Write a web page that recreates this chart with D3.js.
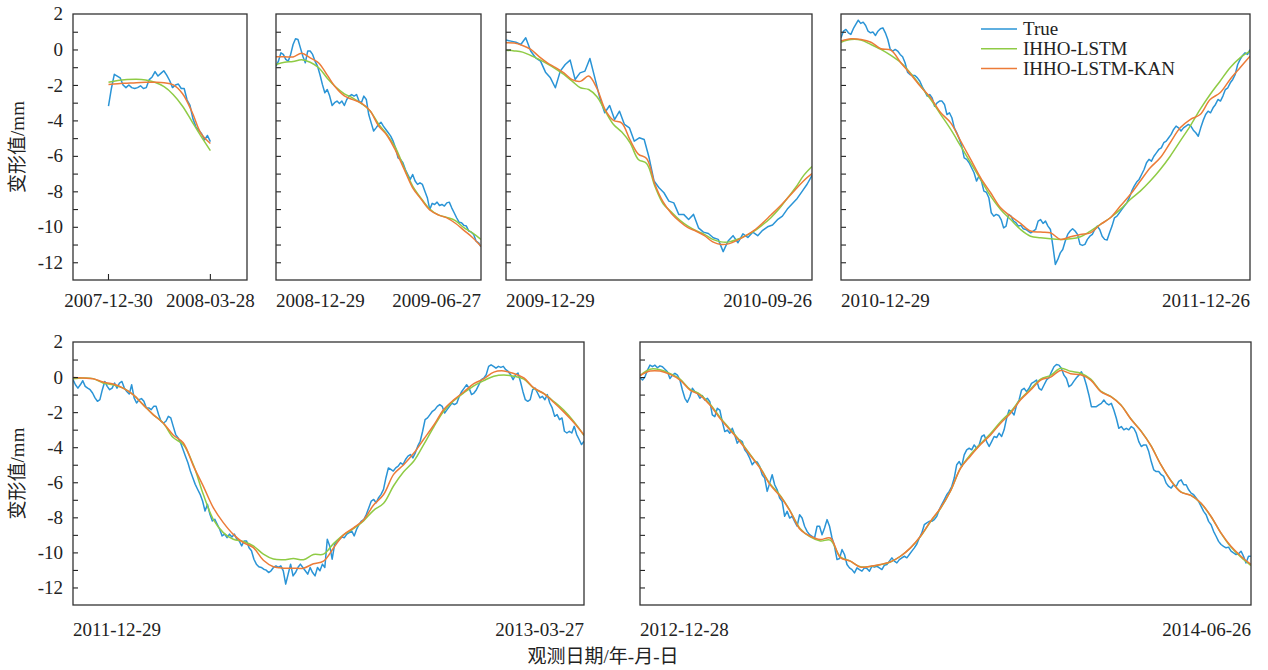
<!DOCTYPE html>
<html>
<head>
<meta charset="utf-8">
<script src="https://cdn.jsdelivr.net/npm/d3@7"></script>
<style>
  body { margin: 0; background: #fff; }
  text { font-family: "Liberation Serif", "Times New Roman", "Noto Sans CJK SC", serif; fill: #222; }
</style>
</head>
<body>
<div class="chart"></div>
<script>
// Data: each panel has a start/end date and three series sampled evenly over it.
const seriesNames = ['True', 'IHHO-LSTM', 'IHHO-LSTM-KAN'];
const seriesColors = ['#2a94d6', '#8fcb45', '#ec7b38'];
const panelDates = [
    ['2007-12-30', '2008-03-28'],
    ['2008-12-29', '2009-06-27'],
    ['2009-12-29', '2010-09-26'],
    ['2010-12-29', '2011-12-26'],
    ['2011-12-29', '2013-03-27'],
    ['2012-12-28', '2014-06-26']
];
const yTicks = [2, 0, -2, -4, -6, -8, -10, -12];

const p1True = [-3.2,-2.2,-1.4,-1.5,-1.6,-2.0,-2.15,-2.0,-2.15,-2.2,-2.15,-2.05,-2.2,-2.15,-1.7,-1.55,-1.25,-1.5,
    -1.35,-1.2,-1.45,-1.75,-2.15,-2.0,-1.95,-2.2,-2.2,-2.85,-3.15,-3.9,-4.35,-4.55,-4.75,-5.1,-4.85,-5.2];
const p1Lstm = [-1.85,-1.75,-1.7,-1.68,-1.72,-1.85,-2.1,-2.55,-3.2,-4.05,-4.9,-5.7];
const p1Kan = [-1.97,-1.93,-1.9,-1.87,-1.85,-1.85,-1.88,-2.0,-2.5,-3.5,-4.75,-5.3];

const p2True = [-0.94,-0.66,-0.19,-0.28,-0.56,-0.66,-0.28,0.28,0.6,0.56,0.09,-0.38,-0.75,-0.09,-0.09,-0.28,-0.66,
    -0.94,-1.41,-1.97,-2.44,-2.26,-2.63,-3.16,-3.0,-2.91,-3.05,-2.91,-3.16,-2.82,-2.63,-2.54,-2.63,-2.54,-2.91,-3.0,
    -2.63,-2.82,-3.67,-4.14,-4.6,-4.42,-4.23,-4.1,-4.32,-4.51,-4.7,-4.89,-5.17,-5.55,-6.11,-6.2,-6.39,-6.77,-7.05,
    -7.33,-7.05,-7.42,-7.61,-7.52,-7.61,-7.99,-8.36,-9.02,-8.68,-8.74,-8.61,-8.8,-8.74,-8.83,-8.65,-8.61,-8.93,-9.21,
    -9.49,-9.74,-9.77,-9.92,-9.96,-10.24,-10.3,-10.43,-10.81,-10.9,-11.13];
const p2Lstm = [-0.85,-0.72,-0.68,-0.58,-0.72,-1.03,-1.62,-2.12,-2.5,-2.74,-3.05,-3.45,-4.2,-4.8,-5.55,-6.67,-7.7,
    -8.4,-9.0,-9.33,-9.47,-9.65,-10.05,-10.34,-10.71];
const p2Kan = [-0.41,-0.41,-0.42,-0.22,-0.47,-0.76,-1.45,-2.15,-2.62,-2.83,-3.02,-3.45,-4.3,-4.85,-5.7,-6.75,-7.8,
    -8.45,-9.05,-9.33,-9.5,-9.8,-10.2,-10.6,-11.1];

const p3True = [0.53,0.47,0.41,0.28,0.66,-0.09,-0.47,-0.66,-1.28,-1.6,-2.16,-1.22,-0.85,-0.6,-1.69,-1.32,-1.22,-0.51,
    -1.6,-2.73,-3.57,-3.16,-3.95,-3.48,-4.23,-4.42,-5.17,-4.98,-5.08,-6.11,-7.42,-7.8,-8.08,-8.55,-8.65,-9.3,-9.3,
    -9.59,-9.3,-10.06,-10.3,-10.38,-10.62,-10.71,
    -11.4,-10.8,-10.5,-10.9,-10.4,-10.6,-10.3,-10.5,-10.2,-10.0,-9.9,-9.6,-9.4,-9.0,-8.7,-8.4,-8.0,-7.6,-7.1];
const p3Lstm = [-0.04,-0.08,-0.15,-0.34,-0.56,-0.81,-1.09,-1.41,-1.79,-2.16,-2.26,-2.67,-3.48,-4.23,-4.66,-5.26,-6.2,
    -6.43,-7.71,-8.7,-9.17,-9.62,-9.96,-10.22,-10.43,-10.71,
    -10.85,-10.85,-10.7,-10.5,-10.25,-9.9,-9.5,-9.0,-8.4,-7.8,-7.1,-6.6];
const p3Kan = [0.38,0.36,0.22,0.0,-0.4,-0.75,-1.02,-1.32,-1.7,-1.8,-1.5,-2.2,-3.4,-4.0,-4.15,-5.1,-5.9,-6.15,-7.6,
    -8.6,-9.25,-9.7,-10.05,-10.25,-10.5,-10.85,
    -11.0,-10.95,-10.75,-10.5,-10.2,-9.8,-9.35,-8.9,-8.4,-7.9,-7.4,-7.0];

const p4True = [0.66,1.03,1.13,0.94,0.85,1.17,1.41,1.65,1.47,1.54,1.35,1.03,0.94,0.98,0.79,1.03,1.17,1.22,0.94,0.56,
    0,-0.09,0,-0.09,-0.28,-0.41,-0.75,-1.28,-1.41,-1.47,-1.47,-1.6,-1.79,-2.11,-2.35,-2.63,-2.54,-2.73,-3.2,-3.01,
    -2.91,-2.91,-3.1,-3.67,-3.57,-3.85,-4.42,-4.7,-5.04,-5.45,-6.11,-6.2,-6.39,-6.67,-6.95,-7.42,-7.14,-7.42,-7.99,
    -8.05,-8.36,-9.21,-9.4,-9.3,-9.36,-9.59,-10.06,-9.96,-9.3,-9.4,-9.68,-9.77,-9.96,-9.92,-10.11,-10.15,-10.24,
    -10.34,-10.24,-10.15,-9.68,-9.59,-9.81,-9.68,-9.96,-10.15,-11.09,-12.12,-11.84,-11.47,-11.28,-10.81,-10.43,
    -10.24,-10.11,-10.24,-10.43,-10.99,-11.05,-10.99,-10.71,-10.53,-10.43,-10.15,-9.96,-10.15,-10.53,-10.71,-10.75,
    -10.34,-9.96,-9.49,-9.4,-9.21,-9.02,-8.83,-8.65,-8.36,-7.99,-7.71,-7.48,-7.33,-7.05,-6.77,-6.39,-6.2,-6.3,-6.02,
    -5.83,-5.64,-5.55,-5.26,-5.17,-4.98,-4.79,-4.51,-4.32,-4.42,-4.6,-4.42,-4.32,-4.23,-4.32,-4.55,-4.7,-4.89,-4.42,
    -4.0,-3.67,-3.48,-3.57,-3.29,-3.1,-2.82,-2.91,-2.63,-2.26,-2.16,-1.88,-1.69,-1.41,-0.85,-0.56,-0.34,-0.19,-0.28,0];
const p4Lstm = [0.41,0.56,0.53,0.28,0,-0.34,-0.75,-1.35,-2.07,-2.82,-3.67,-4.51,-5.45,-6.39,-7.33,-8.27,-9.02,-9.59,
    -10.15,-10.53,-10.62,-10.68,-10.71,-10.68,-10.56,-10.24,-9.87,-9.49,-9.02,-8.46,-7.99,-7.42,-6.77,-6.02,-5.17,
    -4.32,-3.38,-2.54,-1.79,-1.03,-0.47,-0.09];
const p4Kan = [0.47,0.6,0.56,0.41,0.04,-0.04,-0.75,-1.41,-2.11,-2.73,-3.57,-4.14,-5.17,-6.2,-7.24,-8.08,-8.93,-9.4,
    -9.81,-10.24,-10.3,-10.34,-10.71,-10.56,-10.43,-10.34,-9.87,-9.49,-8.83,-8.18,-7.42,-6.67,-6.11,-5.26,-4.42,
    -3.95,-3.67,-2.82,-2.44,-1.69,-1.03,-0.38];

const p5True = [-0.15,-0.44,-0.63,-0.44,-0.21,-0.53,-0.63,-0.72,-0.91,-1.19,-1.38,-1.29,-0.72,-0.25,-0.53,-0.72,-0.63,
    -0.34,-0.63,-0.34,-0.25,-0.63,-0.82,-0.97,-0.44,-1.19,-1.48,-1.29,-1.23,-1.38,-1.76,-1.76,-1.86,-1.67,-1.67,-2.14,
    -2.52,-2.62,-2.52,-2.24,-2.33,-2.81,-3.28,-3.47,-3.75,-4.13,-4.51,-4.89,-5.36,-5.74,-6.12,-6.41,-6.69,-7.07,-7.64,
    -7.26,-7.83,-8.21,-8.11,-8.4,-8.68,-9.06,-8.96,-9.16,-8.96,-9.12,-8.96,-9.25,-9.35,-9.63,-9.35,-9.35,-9.73,-9.91,
    -10.39,-10.67,-10.82,-10.86,-10.96,-11.01,-11.15,-11.05,-10.86,-10.77,-10.86,-10.77,-11.05,-11.81,-11.24,-10.67,
    -11.34,-11.15,-10.86,-10.67,-10.86,-11.05,-11.24,-10.86,-11.15,-11.34,-10.86,-11.05,-10.67,-10.86,
    -9.25,-9.63,-10.39,-9.54,-9.35,-9.25,-9.12,-9.16,-8.96,-8.87,-8.78,-9.06,-8.68,-8.4,-8.21,-8.11,-7.83,-7.45,-7.07,
    -6.98,-7.17,-6.88,-6.69,-6.41,-5.74,-5.18,-5.27,-5.36,-5.18,-5.08,-4.89,-4.99,-4.7,-4.51,-4.42,-4.61,-4.32,-3.94,
    -3.66,-3.09,-2.43,-2.33,-2.14,-1.95,-1.86,-1.67,-1.57,-1.67,-2.05,-1.86,-1.67,-1.48,-1.57,-1.48,-1.1,-0.82,-0.63,
    -0.44,-0.63,-1.0,-0.91,-0.72,-0.44,-0.15,-0.06,0.13,0.61,0.7,0.61,0.51,0.61,0.55,0.61,0.42,0.32,0.13,-0.15,0.13,
    0.23,-0.25,-0.82,-1.29,-1.38,-1.29,-0.72,-0.63,-0.91,-1.19,-1.1,-1.29,-1.0,-1.48,-1.76,-2.24,-2.14,-2.43,-2.33,
    -3.09,-3.19,-3.09,-3.19,-2.81,-3.28,-3.56,-3.85,-3.66];
const p5Lstm = [-0.09,-0.06,-0.09,-0.34,-0.44,-0.63,-1.0,-1.57,-2.14,-2.62,-3.45,-3.85,-4.99,-6.69,-8.11,-8.87,-9.25,
    -9.38,-9.63,-10.1,-10.38,-10.42,-10.35,-10.42,-10.12,-10.1,
    -9.5,-9.0,-8.65,-8.2,-7.6,-7.2,-6.2,-5.4,-4.8,-3.85,-2.85,-1.95,-1.35,-0.9,-0.5,-0.2,0.05,0.12,0.05,-0.12,-0.65,
    -0.95,-1.4,-1.9,-2.55,-3.33];
const p5Kan = [-0.02,-0.06,-0.09,-0.28,-0.4,-0.63,-1.0,-1.57,-2.14,-2.62,-3.3,-3.75,-5.05,-6.22,-7.45,-8.3,-8.97,-9.44,
    -9.73,-10.45,-10.82,-10.9,-10.9,-10.9,-10.65,-10.5,
    -9.75,-9.0,-8.6,-8.15,-7.3,-6.7,-5.55,-5.0,-4.35,-3.55,-2.75,-1.85,-1.3,-0.85,-0.38,-0.1,0.28,0.35,0.2,-0.05,-0.62,
    -0.95,-1.45,-2.0,-2.6,-3.3];

const p6True = [-0.04,-0.17,0.02,0.4,0.68,0.59,0.68,0.53,0.64,0.59,0.45,0.3,-0.08,0.11,0.21,0.11,-0.17,-0.74,-1.21,
    -1.44,-1.12,-0.64,-0.83,-0.93,-1.21,-1.06,-1.31,-1.21,-1.4,-2.16,-2.26,-1.78,-1.88,-2.54,-3.11,-3.02,-3.2,-2.92,
    -3.3,-3.77,-3.58,-3.68,-4.15,-4.34,-4.63,-5.0,-4.82,-4.85,-5.1,-5.57,-5.76,-6.52,-6.05,-5.57,-6.14,-6.43,-6.9,
    -7.09,-7.94,-7.66,-8.04,-7.94,-8.23,-8.51,-7.85,-8.04,-8.51,-8.8,-8.99,-9.08,-9.18,-8.51,-8.51,-8.99,-8.61,-8.13,
    -8.51,-9.18,-9.65,-10.41,-10.35,-9.84,-10.12,-10.69,-10.88,-10.98,-11.17,-10.88,-10.98,-11.07,-10.88,-10.92,
    -11.07,-10.79,-10.84,-10.79,-10.88,-10.98,-10.73,-10.69,-10.5,-10.31,-10.5,-10.6,-10.41,-10.31,-10.22,-10.31,
    -10.12,-9.93,-9.74,-9.52,-9.18,-8.89,-8.42,-8.32,-8.23,-8.23,-8.13,-7.94,-7.56,-7.28,-7.0,-6.71,
    -6.52,-6.24,-5.76,-5.0,-4.82,-5.1,-4.44,-4.15,-4.06,-4.15,-3.87,-4.06,-3.87,-3.39,-3.3,-3.68,-3.96,-3.68,-3.39,
    -3.45,-3.2,-3.39,-3.01,-2.35,-1.88,-1.97,-2.16,-1.59,-1.31,-0.74,-0.64,-0.83,-0.64,-0.36,-0.27,-0.17,-0.64,-0.74,
    -0.45,-0.17,-0.04,0.3,0.59,0.72,0.68,0.49,0.11,-0.08,-0.55,-0.45,-0.23,-0.04,0.11,0.3,0.02,-0.45,-1.02,-1.69,
    -1.69,-1.69,-1.59,-1.5,-1.31,-1.5,-1.59,-1.5,-1.88,-2.35,-2.92,-2.82,-3.01,-2.92,-3.01,-2.82,-2.92,-3.2,-3.68,
    -3.96,-3.87,-3.87,-4.25,-4.82,-5.29,-5.39,-5.39,-5.57,-5.67,-6.05,-6.24,-6.33,-6.14,-6.24,-5.95,-5.86,-6.14,
    -6.14,-6.43,-6.62,-6.71,-6.9,-7.09,-7.37,-7.66,-7.85,-8.23,-8.42,-8.8,-9.08,-9.37,-9.55,-9.65,-9.74,-9.7,-9.93,
    -10.03,-10.12,-10.08,-9.93,-10.22,-10.6,-10.22,-10.22];
const p6Lstm = [0.08,0.45,0.42,0.2,-0.12,-0.7,-0.98,-1.55,-2.3,-2.98,-3.65,-4.42,-5.17,-6.1,-6.75,-7.64,-8.65,-9.12,
    -9.35,-9.3,-10.25,-10.5,-10.82,-10.8,-10.7,-10.55,-10.22,-9.75,-9.1,-8.25,-7.5,
    -6.5,-5.2,-4.42,-3.8,-3.22,-2.55,-1.98,-1.25,-0.68,-0.12,0.1,0.5,0.33,0.22,-0.12,-0.8,-1.1,-1.58,-2.38,-3.06,
    -3.9,-5.0,-5.9,-6.55,-6.75,-7.2,-7.95,-8.9,-9.7,-10.28,-10.75];
const p6Kan = [0.08,0.34,0.34,0.15,-0.17,-0.74,-1.04,-1.61,-2.37,-3.03,-3.7,-4.46,-5.2,-6.15,-6.8,-7.66,-8.7,-9.08,
    -9.27,-9.18,-10.3,-10.5,-10.84,-10.79,-10.69,-10.54,-10.22,-9.74,-9.08,-8.23,-7.47,
    -6.5,-5.2,-4.5,-3.85,-3.3,-2.63,-2.06,-1.3,-0.74,-0.17,0.0,0.38,0.19,0.13,-0.17,-0.83,-1.12,-1.59,-2.39,-3.07,
    -3.91,-5.0,-5.91,-6.56,-6.75,-7.18,-7.94,-8.89,-9.65,-10.22,-10.69];

const panelSeries = [
    [p1True, p1Lstm, p1Kan],
    [p2True, p2Lstm, p2Kan],
    [p3True, p3Lstm, p3Kan],
    [p4True, p4Lstm, p4Kan],
    [p5True, p5Lstm, p5Kan],
    [p6True, p6Lstm, p6Kan]
];

// Layout
const width = 1268, height = 670;
const rows = [{ top: 14, bottom: 280, label: 307 }, { top: 342, bottom: 605, label: 636 }];
const boxes = [
    { x0: 73, x1: 247, row: 0, pad: [31, 32] },
    { x0: 276, x1: 481, row: 0 },
    { x0: 506, x1: 812, row: 0 },
    { x0: 841, x1: 1250, row: 0 },
    { x0: 73, x1: 584, row: 1 },
    { x0: 640, x1: 1251, row: 1 }
];
const fontSize = 19;
const parse = d3.timeParse('%Y-%m-%d');
const fmt = d3.timeFormat('%Y-%m-%d');

const svg = d3.select('.chart')
    .append('svg')
    .attr('width', width)
    .attr('height', height);

boxes.forEach((b, pi) => {
    const row = rows[b.row];
    const [start, end] = panelDates[pi].map(parse);
    const domain = b.pad ? [d3.timeDay.offset(start, -b.pad[0]), d3.timeDay.offset(end, b.pad[1])] : [start, end];

    const x = d3.scaleTime().domain(domain).range([b.x0, b.x1]);
    const y = d3.scaleLinear().domain([-13, 2]).range([row.bottom, row.top]);

    const g = svg.append('g');

    g.append('clipPath').attr('id', `clip${pi}`)
        .append('rect')
        .attr('x', b.x0).attr('y', row.top)
        .attr('width', b.x1 - b.x0).attr('height', row.bottom - row.top);

    // Series lines
    panelSeries[pi].forEach((vals, si) => {
        const t = d3.scaleLinear().domain([0, vals.length - 1]).range([start.getTime(), end.getTime()]);
        const line = d3.line()
            .x((d, i) => x(new Date(t(i))))
            .y(d => y(d))
            .curve(si === 0 ? d3.curveLinear : d3.curveCatmullRom.alpha(0.5));
        g.append('path')
            .datum(vals)
            .attr('clip-path', `url(#clip${pi})`)
            .attr('fill', 'none')
            .attr('stroke', seriesColors[si])
            .attr('stroke-width', 1.5)
            .attr('stroke-linejoin', 'round')
            .attr('d', line);
    });

    // Y ticks (inward), labels only on the first panel of a row
    const yAxis = d3.axisLeft(y)
        .tickValues(d3.range(-12, 2))
        .tickSizeInner(-5)
        .tickSizeOuter(0)
        .tickFormat(d => (pi === 0 || pi === 4) && yTicks.includes(d) ? d : '');
    const ya = g.append('g')
        .attr('transform', `translate(${b.x0},0)`)
        .call(yAxis);
    ya.select('.domain').remove();
    ya.selectAll('line').attr('stroke', '#222').attr('stroke-width', 1.1);
    ya.selectAll('text')
        .attr('x', -10)
        .style('font-size', `${fontSize}px`);
    if (pi === 0 || pi === 4) {
        g.append('text')
            .attr('x', b.x0 - 10).attr('y', y(2)).attr('dy', '0.32em')
            .attr('text-anchor', 'end')
            .style('font-size', `${fontSize}px`)
            .text('2');
    }

    // X ticks
    if (b.pad) {
        [start, end].forEach(d => {
            g.append('line')
                .attr('x1', x(d)).attr('x2', x(d))
                .attr('y1', row.bottom).attr('y2', row.bottom - 6)
                .attr('stroke', '#222').attr('stroke-width', 1.1);
            g.append('text')
                .attr('x', x(d)).attr('y', row.label)
                .attr('text-anchor', 'middle')
                .style('font-size', `${fontSize}px`)
                .text(fmt(d));
        });
    } else {
        g.append('text')
            .attr('x', b.x0).attr('y', row.label)
            .attr('text-anchor', 'start')
            .style('font-size', `${fontSize}px`)
            .text(fmt(start));
        g.append('text')
            .attr('x', b.x1).attr('y', row.label)
            .attr('text-anchor', 'end')
            .style('font-size', `${fontSize}px`)
            .text(fmt(end));
    }

    // Frame
    g.append('rect')
        .attr('x', b.x0).attr('y', row.top)
        .attr('width', b.x1 - b.x0).attr('height', row.bottom - row.top)
        .attr('fill', 'none')
        .attr('stroke', '#333')
        .attr('stroke-width', 1.3);
});

// Legend in panel 4
const legend = svg.append('g');
seriesNames.forEach((name, i) => {
    const ly = 29 + i * 19.8;
    legend.append('line')
        .attr('x1', 981).attr('x2', 1017)
        .attr('y1', ly).attr('y2', ly)
        .attr('stroke', seriesColors[i])
        .attr('stroke-width', 1.5);
    legend.append('text')
        .attr('x', 1023).attr('y', ly).attr('dy', '0.33em')
        .style('font-size', `${fontSize}px`)
        .text(name);
});

// Axis titles
rows.forEach(r => {
    svg.append('text')
        .attr('transform', `translate(24,${(r.top + r.bottom) / 2}) rotate(-90)`)
        .attr('text-anchor', 'middle')
        .style('font-size', '19px')
        .text('变形值/mm');
});
svg.append('text')
    .attr('x', 603).attr('y', 663)
    .attr('text-anchor', 'middle')
    .style('font-size', '19px')
    .text('观测日期/年-月-日');
</script>
</body>
</html>
